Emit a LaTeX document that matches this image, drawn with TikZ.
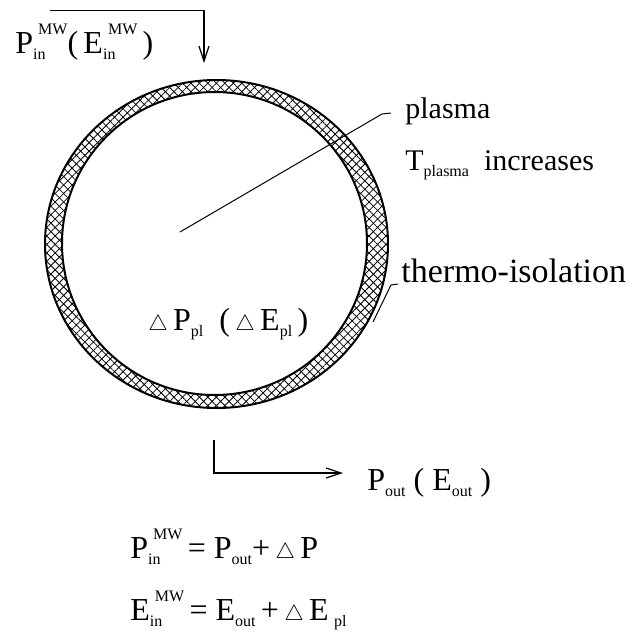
\documentclass[tikz,border=0pt]{standalone}
\usepackage{fontspec}
\setmainfont{Liberation Serif}
\usetikzlibrary{arrows.meta, patterns.meta}

\newcommand{\bigfont}{\fontsize{16}{19}\selectfont}
\newcommand{\subfont}{\fontsize{8}{9}\selectfont}
\newcommand{\sbx}[1]{\raisebox{-3pt}{\subfont #1}}
\newcommand{\sbsp}[2]{\rlap{\sbx{#1}}\hspace{2.5pt}\raisebox{9.5pt}{\subfont #2}}
\newcommand{\tri}{{\fontsize{11}{11}\selectfont$\triangle$}}

\tikzset{
    lbl/.style={anchor=base west, inner sep=0pt, font=\fontsize{15}{18}\selectfont},
    eqn/.style={anchor=base west, inner sep=0pt, font=\bigfont},
    lead/.style={line width=0.5pt},
    flow/.style={line width=0.6pt, -{Straight Barb[length=7.5pt,width=5pt]}},
    hatch/.style={pattern={Lines[angle=#1, distance=3pt, line width=0.4pt]}, even odd rule}
}

\begin{document}
\begin{tikzpicture}[x=0.5pt, y=-0.5pt]
    % Canvas size
    \useasboundingbox (0,0) rectangle (636,639);

    % Ring outline (outer and inner)
    \def\ringOuter{(216.5,244) ellipse [x radius=171.5, y radius=164]}
    \def\ringInner{(214.5,243.5) ellipse [x radius=152.5, y radius=151.5]}

    % Draw the thermo-isolation ring
    \fill[hatch=45] \ringOuter \ringInner;
    \fill[hatch=-45] \ringOuter \ringInner;
    \draw[line width=1pt] \ringOuter;
    \draw[line width=1pt] \ringInner;

    % Incoming microwave power
    \node[eqn] (pin) at (15,53) {P\sbsp{in}{MW}(\,E\sbsp{in}{MW}\,)};
    \coordinate (in0) at (50,10.7);
    \coordinate (in1) at (204,10.7);
    \coordinate (in2) at (204,63);
    \draw[flow] (in0) -- (in1) -- (in2);

    % Labels on the right
    \node[lbl] (plasma) at (405,118) {plasma};
    \node[lbl] (tpl) at (405,170) {T\sbx{plasma}\ \ increases};
    \node[lbl, font=\fontsize{17}{20}\selectfont] (thermo) at (401,282) {thermo-isolation};

    % Leader lines
    \coordinate (pl0) at (180,232);
    \coordinate (pl1) at (382,114);
    \coordinate (pl2) at (391,113);
    \draw[lead] (pl0) -- (pl1) -- (pl2);
    \coordinate (th0) at (373,322);
    \coordinate (th1) at (391,285);
    \coordinate (th2) at (398,284);
    \draw[lead] (th0) -- (th1) -- (th2);

    % Stored power inside
    \node[eqn] (dpl) at (148,330) {\tri\,P\sbx{pl}\ \ (\,\tri\,E\sbx{pl}\,)};

    % Outgoing power
    \coordinate (out0) at (214,440);
    \coordinate (out1) at (214,473);
    \coordinate (out2) at (343,473);
    \draw[flow] (out0) -- (out1) -- (out2);
    \node[eqn] (pout) at (367,490) {P\sbx{out}\ ( E\sbx{out}\ )};

    % Balance equations
    \node[eqn] (eqp) at (130,558) {P\sbsp{in}{MW}\,= P\sbx{out}+\,\tri\,P};
    \node[eqn] (eqe) at (130,620) {E\sbsp{in}{MW}\,= E\sbx{out}\,+\,\tri\,E\,\sbx{pl}};

\end{tikzpicture}
\end{document}
